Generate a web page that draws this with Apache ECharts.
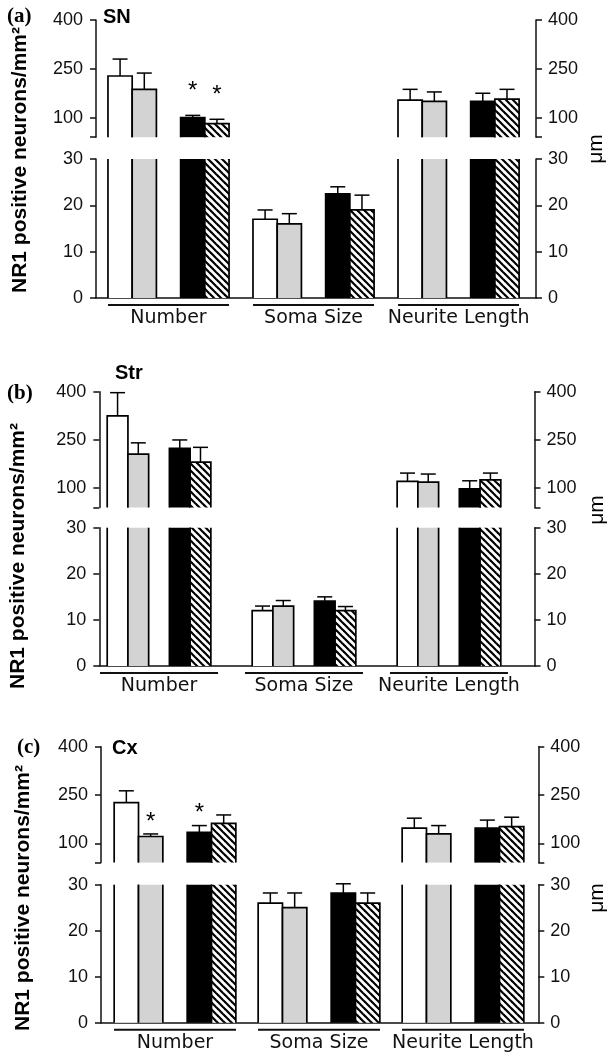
<!DOCTYPE html>
<html>
<head>
<meta charset="utf-8">
<script src="https://cdn.jsdelivr.net/npm/echarts@6/dist/echarts.min.js"></script>
<style>
html,body{margin:0;padding:0;background:#fff;}
#chart{width:610px;height:1053px;}
</style>
</head>
<body>
<div id="chart"></div>
<script>
// ---------------- DATA ----------------
const groups = ['Number', 'Soma Size', 'Neurite Length'];
const conditions = ['Condition 1', 'Condition 2', 'Condition 3', 'Condition 4'];
const panelLetters = ['(a)', '(b)', '(c)'];
const regions = ['SN', 'Str', 'Cx'];
const upperTickLabels = [100, 250, 400];
const lowerTickLabels = [0, 10, 20, 30];
const leftAxisTitle = 'NR1 positive neurons/mm²';
const rightAxisTitle = 'μm';

// values per condition: [Number, Soma Size, Neurite Length]
const snValues = [[228, 17, 154], [187, 16, 150], [100, 22.5, 150], [82, 19, 157]];
const snErrors = [[52, 2, 33], [50, 2.2, 29], [7, 1.5, 25], [13, 3.2, 30]];
const snStars = [[0, 2], [0, 3]];           // [group, condition]

const strValues = [[325, 12, 121], [206, 13, 119], [224, 14.1, 98], [181, 12, 126]];
const strErrors = [[72, 1, 26], [35, 1.2, 25], [26, 0.9, 25], [46, 0.9, 21]];
const strStars = [];

const cxValues = [[226, 26, 147], [121, 25, 129], [134, 28.2, 147], [162, 26, 152]];
const cxErrors = [[37, 2.2, 31], [8, 3.2, 26], [21, 2, 25], [26, 2.2, 29]];
const cxStars = [[0, 1], [0, 2]];

// ---------------- LAYOUT / STYLE ----------------
const UPPER_MIN = 40, UPPER_MAX = 400, LOWER_MAX = 30;
const layouts = [
  {left: 96,  right: 536,   upTop: 20,    upH: 117.2, loTop: 159,   loH: 139,   xMin: -0.5,   xMax: 2.534, barW: 0.167, ulW: 121, starGap: 24,
   letter: [7, 17], region: [103, 17], yTitle: [20, 160], rTitle: [596, 149]},
  {left: 99.3, right: 534.5, upTop: 391.7, upH: 115.8, loTop: 527.7, loH: 138.3, xMin: -0.412, xMax: 2.59, barW: 0.143, ulW: 118, starGap: 20,
   letter: [7, 394], region: [115, 373], yTitle: [18, 556], rTitle: [597, 510]},
  {left: 101, right: 538.3, upTop: 746.7, upH: 115.9, loTop: 884.7, loH: 138,   xMin: -0.514, xMax: 2.523, barW: 0.169, ulW: 122, starGap: 12,
   letter: [17, 748], region: [112, 748], yTitle: [23, 898], rTitle: [597, 898]}
];
const slots = [0, 1, 3, 4];
const INK = '#111';
const tickFont = {fontSize: 18, fontFamily: '"Liberation Sans", Arial, sans-serif', color: INK};

function hatchCanvas() {
  const s = 7;
  const c = document.createElement('canvas');
  c.width = s; c.height = s;
  const ctx = c.getContext('2d');
  ctx.fillStyle = '#fff';
  ctx.fillRect(0, 0, s, s);
  ctx.strokeStyle = '#000';
  ctx.lineWidth = 2.2;
  for (const o of [-s, 0, s]) {
    ctx.beginPath();
    ctx.moveTo(o - 1, -1);
    ctx.lineTo(o + s + 1, s + 1);
    ctx.stroke();
  }
  return c;
}
const hatch = {image: hatchCanvas(), repeat: 'repeat'};
const fills = ['#ffffff', '#d3d3d3', '#000000', hatch];

const panels = [
  {values: snValues, errors: snErrors, stars: snStars},
  {values: strValues, errors: strErrors, stars: strStars},
  {values: cxValues, errors: cxErrors, stars: cxStars}
];

function barRenderer(L, cond, isUpper) {
  const slot = slots[cond];
  return function (params, api) {
    const g = api.value(0), v = api.value(1), e = api.value(2);
    const cs = params.coordSys;
    const base = cs.y + cs.height;
    const minVal = isUpper ? UPPER_MIN : 0;
    if (!(v > minVal)) return null;
    const xl = api.coord([g + (slot - 2.5) * L.barW, minVal])[0];
    const xr = api.coord([g + (slot - 1.5) * L.barW, minVal])[0];
    const xc = (xl + xr) / 2;
    let yTop = api.coord([g, v])[1];
    const clipped = yTop < cs.y;
    if (clipped) yTop = cs.y;
    const stroke = {stroke: '#000', lineWidth: 1.7, fill: null};
    const children = [{
      type: 'rect',
      shape: {x: xl, y: yTop, width: xr - xl, height: base - yTop},
      style: {fill: fills[cond], stroke: null}
    }];
    if (clipped) {
      children.push({type: 'line', shape: {x1: xl, y1: base, x2: xl, y2: yTop}, style: stroke});
      children.push({type: 'line', shape: {x1: xr, y1: base, x2: xr, y2: yTop}, style: stroke});
    } else {
      children.push({type: 'polyline', shape: {points: [[xl, base], [xl, yTop], [xr, yTop], [xr, base]]}, style: stroke});
      const yErr = api.coord([g, v + e])[1];
      const cap = 7.5;
      children.push({type: 'line', shape: {x1: xc, y1: yTop, x2: xc, y2: yErr}, style: {stroke: '#000', lineWidth: 1.5}});
      children.push({type: 'line', shape: {x1: xc - cap, y1: yErr, x2: xc + cap, y2: yErr}, style: {stroke: '#000', lineWidth: 1.5}});
    }
    return {type: 'group', children: children};
  };
}

function starRenderer(L, P) {
  return function (params, api) {
    const g = api.value(0), cond = api.value(1);
    const v = P.values[cond][g], e = P.errors[cond][g];
    const x = api.coord([g + (slots[cond] - 2) * L.barW, v + e]);
    return {
      type: 'text',
      x: x[0], y: x[1] - L.starGap,
      style: {text: '*', fontSize: 24, fontFamily: '"Liberation Sans", Arial, sans-serif', fill: '#000',
              textAlign: 'center', textVerticalAlign: 'middle'}
    };
  };
}

const grid = [], xAxis = [], yAxis = [], series = [], graphic = [];
const axisLine = {show: true, onZero: false, lineStyle: {color: INK, width: 1.5}};

panels.forEach((P, pi) => {
  const L = layouts[pi];
  const gU = pi * 2, gL = pi * 2 + 1;
  grid.push({left: L.left, width: L.right - L.left, top: L.upTop, height: L.upH, containLabel: false, outerBoundsMode: 'none'});
  grid.push({left: L.left, width: L.right - L.left, top: L.loTop, height: L.loH, containLabel: false, outerBoundsMode: 'none'});

  xAxis.push({gridIndex: gU, type: 'value', min: L.xMin, max: L.xMax, show: false});
  xAxis.push({
    gridIndex: gL, type: 'value', min: L.xMin, max: L.xMax, position: 'bottom',
    axisLine: axisLine,
    axisTick: {show: false}, splitLine: {show: false},
    axisLabel: {
      customValues: [0, 1, 2], margin: 6, hideOverlap: false,
      formatter: (val) => '{ul|}\n{t|' + groups[Math.round(val)] + '}',
      rich: {
        ul: {width: L.ulW, height: 2, lineHeight: 2, backgroundColor: INK},
        t: {fontSize: 19, lineHeight: 24, fontFamily: '"DejaVu Sans", sans-serif', color: INK}
      }
    }
  });

  ['left', 'right'].forEach((pos) => {
    yAxis.push({
      gridIndex: gU, type: 'value', position: pos, min: UPPER_MIN, max: UPPER_MAX,
      axisLine: axisLine, splitLine: {show: false},
      axisTick: {show: true, length: 6, customValues: [UPPER_MIN].concat(upperTickLabels), lineStyle: {color: INK, width: 1.5}},
      axisLabel: Object.assign({customValues: upperTickLabels, margin: pos === 'left' ? 13 : 12}, tickFont)
    });
  });
  ['left', 'right'].forEach((pos) => {
    yAxis.push({
      gridIndex: gL, type: 'value', position: pos, min: 0, max: LOWER_MAX, interval: 10,
      axisLine: axisLine, splitLine: {show: false},
      axisTick: {show: true, length: 6, lineStyle: {color: INK, width: 1.5}},
      axisLabel: Object.assign({customValues: lowerTickLabels, margin: pos === 'left' ? 13 : 12}, tickFont)
    });
  });

  conditions.forEach((name, c) => {
    const data = groups.map((_, g) => [g, P.values[c][g], P.errors[c][g]]);
    series.push({type: 'custom', name: name, xAxisIndex: gU, yAxisIndex: pi * 4, encode: {x: 0, y: 1},
                 renderItem: barRenderer(L, c, true), data: data, silent: true});
    series.push({type: 'custom', name: name, xAxisIndex: gL, yAxisIndex: pi * 4 + 2, encode: {x: 0, y: 1},
                 renderItem: barRenderer(L, c, false), data: data, silent: true});
  });
  if (P.stars.length) {
    series.push({type: 'custom', name: 'significance', xAxisIndex: gU, yAxisIndex: pi * 4,
                 renderItem: starRenderer(L, P), data: P.stars, silent: true});
  }

  graphic.push({type: 'text', x: L.letter[0], y: L.letter[1],
    style: {text: panelLetters[pi], font: 'bold 21px "Liberation Serif", "Times New Roman", serif', fill: '#000', textAlign: 'left', textVerticalAlign: 'middle'}});
  graphic.push({type: 'text', x: L.region[0], y: L.region[1],
    style: {text: regions[pi], font: 'bold 20px "Liberation Sans", Arial, sans-serif', fill: '#000', textAlign: 'left', textVerticalAlign: 'middle'}});
  graphic.push({type: 'text', x: L.yTitle[0], y: L.yTitle[1], rotation: Math.PI / 2,
    style: {text: leftAxisTitle, font: 'bold 21px "Liberation Sans", Arial, sans-serif', fill: '#000', textAlign: 'center', textVerticalAlign: 'middle'}});
  graphic.push({type: 'text', x: L.rTitle[0], y: L.rTitle[1], rotation: Math.PI / 2,
    style: {text: rightAxisTitle, font: '21px "Liberation Sans", Arial, sans-serif', fill: '#000', textAlign: 'center', textVerticalAlign: 'middle'}});
});

const chart = echarts.init(document.getElementById('chart'), null, {renderer: 'canvas'});
chart.setOption({
  animation: false,
  backgroundColor: '#fff',
  grid: grid, xAxis: xAxis, yAxis: yAxis, series: series, graphic: graphic
});
</script>
</body>
</html>
